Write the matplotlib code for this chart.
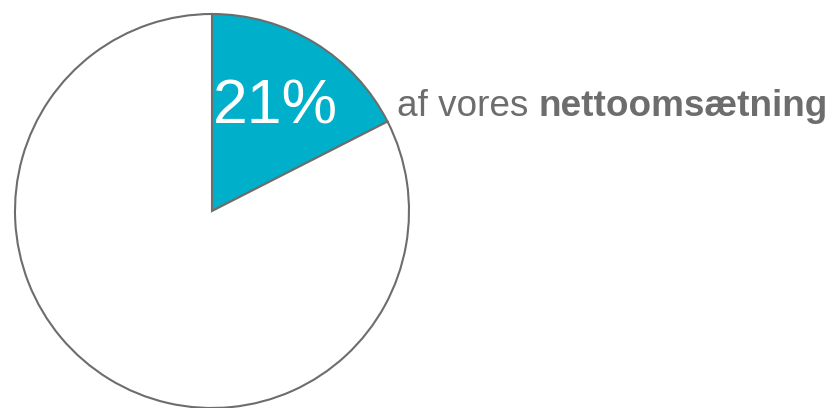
import matplotlib
matplotlib.use('Agg')
import matplotlib.pyplot as plt

# dados
slice_shares = [17.5, 82.5]   # fatia destacada / resto (como desenhado)
slice_colors = ['#00b0ca', 'white']
share_label = '21%'
text_regular = 'af vores '
text_bold = 'nettoomsætning'

plt.rcParams['font.family'] = ['Liberation Sans', 'DejaVu Sans']
grey = '#6d6d6d'

fig = plt.figure(figsize=(8.33, 4.08), dpi=100)
ax = fig.add_axes([0, 0, 1, 1])

ax.pie(slice_shares, colors=slice_colors, startangle=90, counterclock=False,
       center=(212, 197), radius=197,
       wedgeprops=dict(edgecolor=grey, linewidth=1.5))
ax.set_xlim(0, 833)
ax.set_ylim(0, 408)
ax.set_aspect('equal')
ax.axis('off')

ax.text(213, 408 - 124, share_label, color='white', fontsize=45,
        ha='left', va='baseline')

t1 = ax.text(397, 408 - 116.5, text_regular, color=grey, fontsize=26.6,
             ha='left', va='baseline')
fig.canvas.draw()
bb = t1.get_window_extent(renderer=fig.canvas.get_renderer())
x_next = ax.transData.inverted().transform((bb.x1, bb.y0))[0]
ax.text(x_next, 408 - 116.5, text_bold, color=grey, fontsize=26.6,
        fontweight='bold', ha='left', va='baseline')

fig.savefig('out.png', dpi=100)
